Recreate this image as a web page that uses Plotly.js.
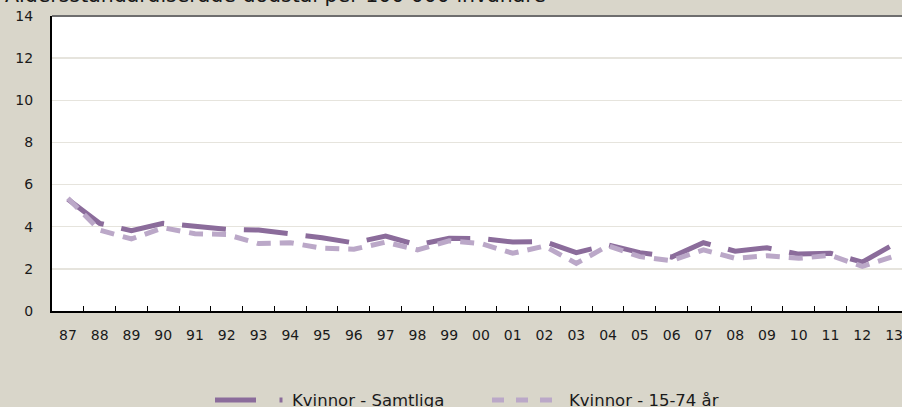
<!DOCTYPE html>
<html>
<head>
<meta charset="utf-8">
<script src="https://cdn.plot.ly/plotly-3.0.1.min.js"></script>
<style>html,body{margin:0;padding:0;background:#d9d6ca;}#chart{width:902px;height:407px;}</style>
</head>
<body>
<div id="chart"></div>
<script>
const years = ["87","88","89","90","91","92","93","94","95","96","97","98","99","00","01","02","03","04","05","06","07","08","09","10","11","12","13"];
const samtliga = [5.3,4.16,3.81,4.16,4.02,3.88,3.84,3.67,3.48,3.23,3.56,3.13,3.45,3.44,3.27,3.3,2.77,3.14,2.77,2.56,3.24,2.84,3.0,2.7,2.74,2.32,3.17];
const aged1574 = [5.35,3.84,3.42,3.95,3.67,3.63,3.2,3.24,2.98,2.93,3.27,2.9,3.33,3.2,2.74,3.08,2.26,3.1,2.58,2.39,2.9,2.5,2.62,2.5,2.64,2.12,2.6];
const seriesNames = ["Kvinnor - Samtliga","Kvinnor - 15-74 år"];
const titleText = "Åldersstandardiserade dödstal per 100 000 invånare";

const darkC = "#8b6c9b", lightC = "#bba8c8";
const font = "DejaVu Sans, sans-serif";

const traces = [
  {x: years, y: samtliga, type: "scatter", mode: "lines", name: seriesNames[0],
   line: {color: darkC, width: 5, dash: "44px,18px"}, showlegend: false},
  {x: years, y: aged1574, type: "scatter", mode: "lines", name: seriesNames[1],
   line: {color: lightC, width: 5, dash: "14px,9px"}, showlegend: false}
];

const L = 52, R = 902, T = 16, B = 311;
const px = v => (v - L) / (R - L);
const py = v => (B - v) / (B - T);
const legY = py(400);

const layout = {
  width: 902, height: 407,
  margin: {l: L, r: 902 - R, t: T, b: 407 - B, pad: 0},
  paper_bgcolor: "#d9d6ca", plot_bgcolor: "#ffffff",
  font: {family: font, size: 14, color: "#1a1a1a"},
  xaxis: {type: "category", range: [-0.5, 26.25], tickson: "boundaries", ticks: "inside", ticklen: 5, tickwidth: 1,
          tickcolor: "#000", showgrid: false, showline: true, linecolor: "#000", linewidth: 2,
          tickfont: {family: font, size: 14, color: "#1a1a1a"}, ticklabelstandoff: 10, fixedrange: true},
  yaxis: {range: [0, 14], dtick: 2, tick0: 0, ticks: "", showgrid: true, gridcolor: "#e6e4dd", gridwidth: 1.5,
          showline: true, linecolor: "#000", linewidth: 2, zeroline: false,
          tickfont: {family: font, size: 14, color: "#1a1a1a"}, ticklabelstandoff: 14, fixedrange: true},
  shapes: [
    {type: "line", xref: "paper", yref: "paper", x0: 0, x1: 1, y0: 1, y1: 1, line: {color: "#6e6e6e", width: 2}},
    {type: "line", xref: "paper", yref: "paper", x0: px(215), x1: px(256), y0: legY, y1: legY, line: {color: darkC, width: 5}},
    {type: "line", xref: "paper", yref: "paper", x0: px(279.5), x1: px(282.5), y0: legY, y1: legY, line: {color: darkC, width: 5}},
    {type: "line", xref: "paper", yref: "paper", x0: px(492), x1: px(552), y0: legY, y1: legY, line: {color: lightC, width: 5, dash: "12px,12px"}}
  ],
  annotations: [
    {text: titleText, xref: "paper", yref: "paper", x: px(3), y: py(-6), xanchor: "left", yanchor: "middle", showarrow: false,
     font: {family: font, size: 20.5, color: "#1a1a1a"}},
    {text: seriesNames[0], xref: "paper", yref: "paper", x: px(290), y: legY, xanchor: "left", yanchor: "middle", showarrow: false,
     font: {family: font, size: 16.5, color: "#1a1a1a"}},
    {text: seriesNames[1], xref: "paper", yref: "paper", x: px(567), y: legY, xanchor: "left", yanchor: "middle", showarrow: false,
     font: {family: font, size: 16.5, color: "#1a1a1a"}}
  ],
  showlegend: false
};

Plotly.newPlot("chart", traces, layout, {displayModeBar: false, staticPlot: true});
</script>
</body>
</html>
